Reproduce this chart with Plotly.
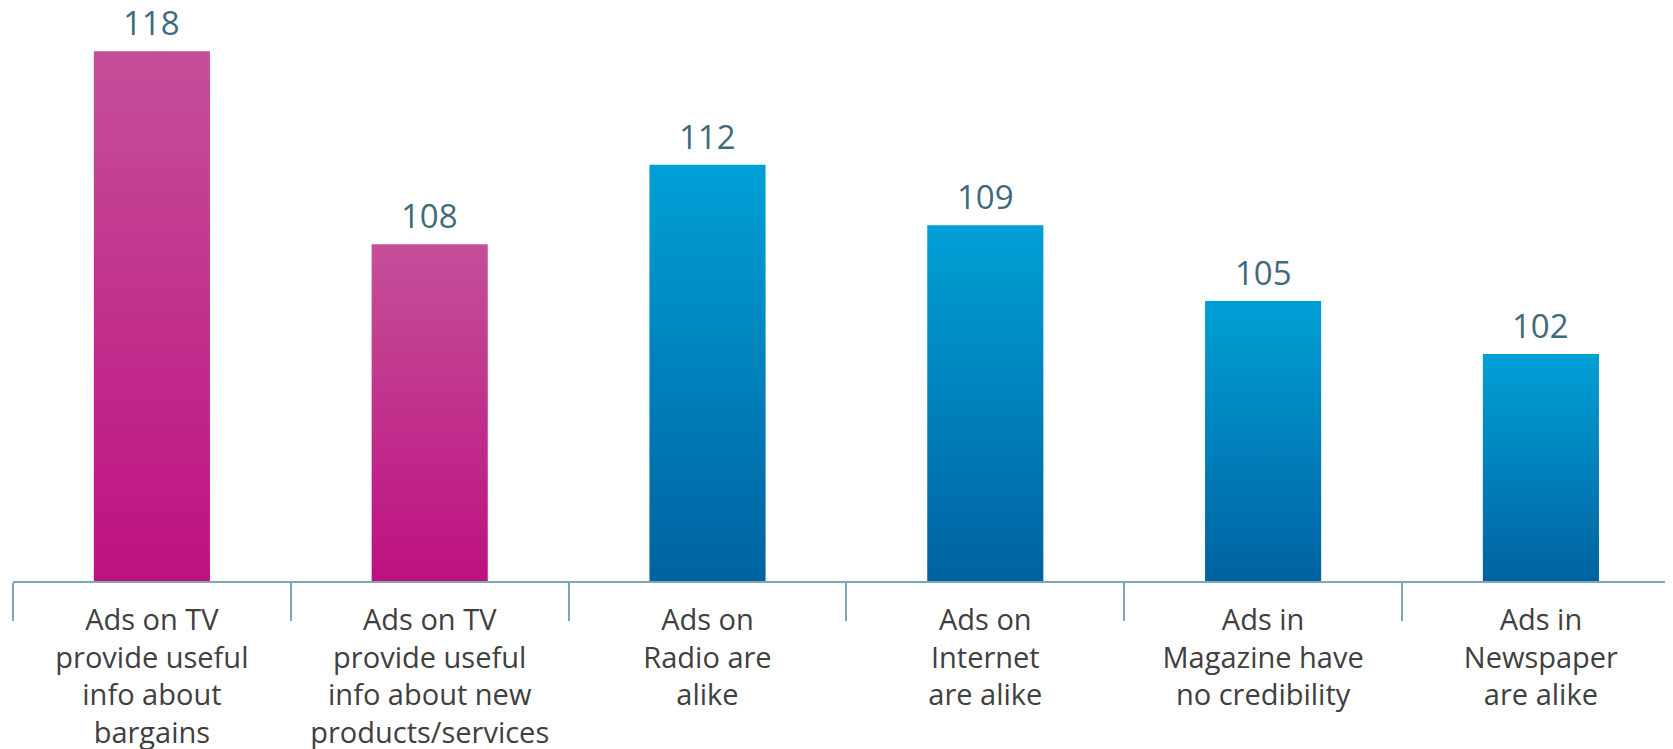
import plotly.graph_objects as go

categories = [
    "Ads on TV<br>provide useful<br>info about<br>bargains",
    "Ads on TV<br>provide useful<br>info about new<br>products/services",
    "Ads on<br>Radio are<br>alike",
    "Ads on<br>Internet<br>are alike",
    "Ads in<br>Magazine have<br>no credibility",
    "Ads in<br>Newspaper<br>are alike",
]
values = [118, 107.8, 112, 108.8, 104.8, 102]
media = ["TV", "TV", "Radio", "Internet", "Magazine", "Newspaper"]

Y_MIN = 90
Y_MAX = 120.28
BAR_W = 0.418

PINK = ("#bd1180", "#c54f99")   # bottom, top
BLUE = ("#0062a0", "#00a0d6")
LABEL_COLOR = "#3f6a7e"
AXIS_COLOR = "#7ea6b9"

fig = go.Figure()

for i, (v, m) in enumerate(zip(values, media)):
    bottom, top = PINK if m == "TV" else BLUE
    xl, xr_ = i - BAR_W / 2, i + BAR_W / 2
    fig.add_trace(go.Scatter(
        x=[xl, xr_, xr_, xl, xl],
        y=[Y_MIN, Y_MIN, v, v, Y_MIN],
        mode="lines",
        fill="toself",
        line=dict(width=0),
        fillgradient=dict(type="vertical", colorscale=[[0, bottom], [1, top]],
                          start=Y_MIN, stop=v),
        hoverinfo="skip",
        showlegend=False,
    ))
    fig.add_annotation(
        x=i, y=v, text=f"{v:.0f}", showarrow=False,
        xanchor="center", yanchor="bottom", yshift=4,
        font=dict(family="Open Sans", size=33, color=LABEL_COLOR),
    )

n = len(categories)
boundaries = [i - 0.5 for i in range(n + 1)]
xrange_ = [-0.5, -0.5 + 1652 / 277.8]

fig.update_layout(
    width=1657, height=741,
    margin=dict(l=5, r=0, t=0, b=167.5, pad=0, autoexpand=False),
    plot_bgcolor="white", paper_bgcolor="white",
    showlegend=False,
    xaxis=dict(
        range=xrange_, tickvals=list(range(n)), ticktext=categories,
        showgrid=False, zeroline=False, ticks="", automargin=False,
        showline=True, linecolor=AXIS_COLOR, linewidth=2,
        tickfont=dict(family="Open Sans", size=29, color="#404040"),
        ticklabelstandoff=12,
        minor=dict(tickvals=boundaries, ticks="outside", ticklen=38,
                   tickwidth=2, tickcolor=AXIS_COLOR, showgrid=False),
    ),
    yaxis=dict(range=[Y_MIN, Y_MAX], visible=False, showgrid=False,
               automargin=False),
)

fig.write_html("out.html")
